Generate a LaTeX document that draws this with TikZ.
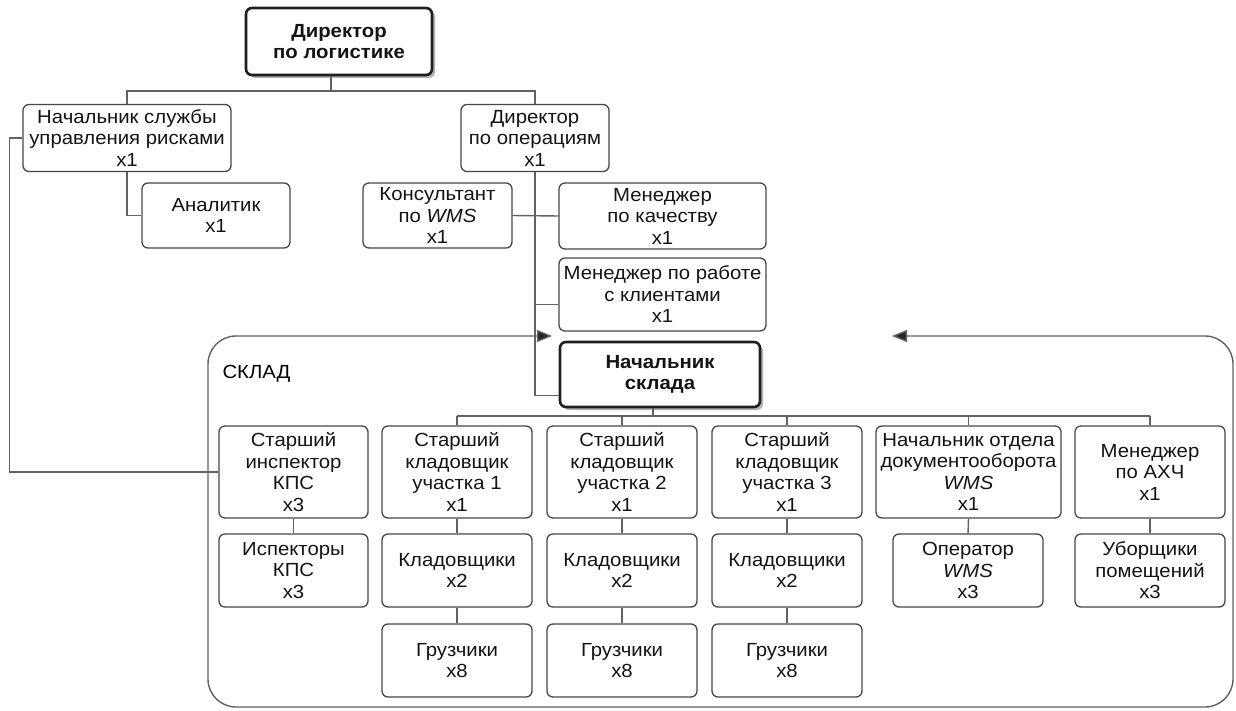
\documentclass[tikz,border=0pt]{standalone}
\usepackage{fontspec}
\setmainfont{Liberation Sans}[FakeStretch=1.07]
\usetikzlibrary{arrows.meta,shadows}

\begin{document}
\begin{tikzpicture}[x=1pt,y=-1pt,
  font=\fontsize{19}{21.5}\selectfont,
  box/.style={draw=black!72, line width=1.3pt, rounded corners=6pt, align=center,
    inner sep=0pt, text=black!92, fill=white},
  sz/.style 2 args={minimum width=#1, minimum height=#2},
  headbox/.style={box, line width=2.6pt, draw=black!88,
    font=\fontsize{19}{21.5}\selectfont\bfseries,
    drop shadow={shadow xshift=3pt, shadow yshift=-3pt, opacity=0.3, fill=black}},
  link/.style={draw=black!62, line width=1.4pt},
  tip/.tip={Triangle[length=15pt,width=12pt]},
]
\fill[white] (0,0) rectangle (1236,711);
\useasboundingbox (0,0) rectangle (1236,711);

% warehouse frame, its top edge opened by two inward arrows
\coordinate (gapL) at (552,336);
\coordinate (gapR) at (892,336);
\draw[link, rounded corners=28pt, {tip[fill=black!85]}-{tip[fill=black!85]}]
  (gapL) -- (208,336) -- (208,707) -- (1233,707) -- (1233,336) -- (gapR);
\node[anchor=west] (sklad) at (219,374) {СКЛАД};

% upper management
\node[headbox, sz={186pt}{67pt}] (tdl) at (339,41.5) {Директор\\по логистике};
\node[box, sz={208pt}{67pt}] (risk) at (127,138) {Начальник службы\\управления рисками\\x1};
\node[box, sz={148pt}{67pt}] (ops) at (535,138) {Директор\\по операциям\\x1};
\node[box, sz={148pt}{65pt}] (an) at (216,215.5) {Аналитик\\x1};
\node[box, sz={149pt}{65pt}] (cons) at (437.5,215.5) {Консультант\\по \textit{WMS}\\x1};
\node[box, sz={207pt}{66pt}] (mq) at (662.5,216) {Менеджер\\по качеству\\x1};
\node[box, sz={207pt}{73pt}] (mc) at (662.5,294.5) {Менеджер по работе\\с клиентами\\x1};
\node[headbox, sz={200pt}{65pt}] (ns) at (660,374.5) {Начальник\\склада};

% warehouse staff
\node[box, sz={149pt}{92pt}] (kps1) at (293.5,472) {Старший\\инспектор\\КПС\\x3};
\node[box, sz={150pt}{92pt}] (sk1) at (457,472) {Старший\\кладовщик\\участка 1\\x1};
\node[box, sz={150pt}{92pt}] (sk2) at (622,472) {Старший\\кладовщик\\участка 2\\x1};
\node[box, sz={150pt}{92pt}] (sk3) at (787,472) {Старший\\кладовщик\\участка 3\\x1};
\node[box, sz={185pt}{92pt}] (nod) at (968.5,472) {Начальник отдела\\документооборота\\\textit{WMS}\\x1};
\node[box, sz={150pt}{92pt}] (ahch) at (1150,472) {Менеджер\\по АХЧ\\x1};

\node[box, sz={149pt}{73pt}] (kps2) at (293.5,570.5) {Испекторы\\КПС\\x3};
\node[box, sz={150pt}{73pt}] (kl1) at (457,570.5) {Кладовщики\\x2};
\node[box, sz={150pt}{73pt}] (kl2) at (622,570.5) {Кладовщики\\x2};
\node[box, sz={150pt}{73pt}] (kl3) at (787,570.5) {Кладовщики\\x2};
\node[box, sz={150pt}{73pt}] (op) at (968,570.5) {Оператор\\\textit{WMS}\\x3};
\node[box, sz={150pt}{73pt}] (ub) at (1150,570.5) {Уборщики\\помещений\\x3};

\node[box, sz={150pt}{73pt}] (gr1) at (457,660.5) {Грузчики\\x8};
\node[box, sz={150pt}{73pt}] (gr2) at (622,660.5) {Грузчики\\x8};
\node[box, sz={150pt}{73pt}] (gr3) at (787,660.5) {Грузчики\\x8};

% top bus
\coordinate (bus1) at (331,91);
\draw[link] ([xshift=-8pt]tdl.south) -- ([xshift=-8pt]tdl.south |- bus1);
\draw[link] (risk.north) -- (risk.north |- bus1) -- (ops.north |- bus1) -- (ops.north);
\draw[link] (risk.south) |- (an.west);
\draw[link] (risk.west) -- ++(-13,0) |- (kps1.west);

% operations branch
\coordinate (mcin) at ([yshift=-10pt]mc.west);
\coordinate (nsin) at ([yshift=-21pt]ns.west);
\draw[link] (ops.south) |- (nsin);
\draw[link] (ops.south |- mcin) -- (mcin);
\draw[link] (cons.east) -- (mq.west);

% warehouse bus
\coordinate (bus2) at (653,416);
\draw[link] ([xshift=-7pt]ns.south) -- ([xshift=-7pt]ns.south |- bus2);
\draw[link] (sk1.north |- bus2) -- (ahch.north |- bus2);
\foreach \n in {sk1,sk2,sk3,nod,ahch}
  \draw[link] (\n.north |- bus2) -- (\n.north);

% columns
\draw[link] (kps1.south) -- (kps2.north);
\draw[link] (sk1.south) -- (kl1.north);
\draw[link] (sk2.south) -- (kl2.north);
\draw[link] (sk3.south) -- (kl3.north);
\draw[link] (kl1.south) -- (gr1.north);
\draw[link] (kl2.south) -- (gr2.north);
\draw[link] (kl3.south) -- (gr3.north);
\draw[link] (nod.south) -- (op.north);
\draw[link] (ahch.south) -- (ub.north);
\end{tikzpicture}
\end{document}
